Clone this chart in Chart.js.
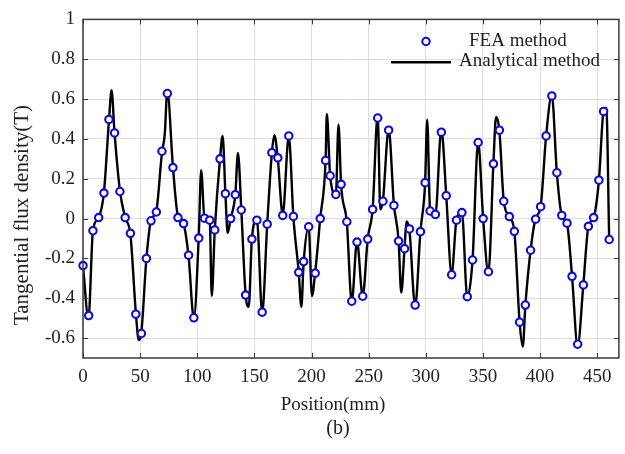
<!DOCTYPE html>
<html><head><meta charset="utf-8">
<script src="https://cdn.jsdelivr.net/npm/chart.js@4"></script>
<style>html,body{margin:0;padding:0;background:#fff;}#wrap{width:625px;height:454px;position:relative}</style>
</head><body><div id="wrap"><canvas id="c" width="625" height="454"></canvas></div>
<script>
// FEA method samples: position (mm) and tangential flux density (T)
const feaX = [0, 5.0, 8.7, 13.7, 18.3, 22.7, 27.6, 32.3, 36.9, 41.5,
  46.2, 51.1, 55.5, 59.5, 64.2, 69.1, 73.8, 78.7, 83.1, 88.0,
  92.4, 97.0, 101.3, 106.3, 110.9, 115.3, 119.9, 124.6, 129.2, 133.3,
  138.5, 142.3, 147.8, 152.2, 156.8, 161.2, 165.3, 170.5, 174.8, 180.1,
  184.1, 188.8, 193.1, 197.5, 203.2, 207.6, 212.3, 216.3, 221.3, 225.9,
  230.9, 235.2, 239.8, 244.8, 249.2, 253.5, 257.9, 262.5, 267.5, 272.1,
  276.2, 281.4, 285.7, 290.7, 295.3, 299.4, 303.8, 308.4, 313.6, 317.9,
  322.6, 326.9, 331.6, 336.3, 340.9, 345.8, 350.2, 354.8, 359.2, 364.4,
  368.2, 373.1, 377.5, 382.1, 387.1, 391.7, 396.1, 400.5, 405.3, 410.3,
  414.7, 419.0, 423.6, 428.0, 432.9, 437.9, 442.3, 446.9, 451.5, 455.6,
  460.5];
const feaY = [-0.236, -0.487, -0.061, 0.005, 0.128, 0.498, 0.43, 0.136, 0.005, -0.074,
  -0.48, -0.577, -0.2, -0.011, 0.033, 0.338, 0.628, 0.256, 0.005, -0.025,
  -0.184, -0.498, -0.098, 0.002, -0.008, -0.057, 0.3, 0.125, 0, 0.12,
  0.043, -0.384, -0.103, -0.008, -0.47, -0.028, 0.331, 0.305, 0.016, 0.415,
  0.011, -0.27, -0.216, -0.041, -0.274, 0, 0.292, 0.215, 0.121, 0.172,
  -0.016, -0.415, -0.118, -0.39, -0.103, 0.046, 0.505, 0.087, 0.444, 0.066,
  -0.113, -0.151, -0.052, -0.434, -0.066, 0.18, 0.038, 0.021, 0.434, 0.115,
  -0.282, -0.008, 0.03, -0.392, -0.208, 0.382, 0, -0.267, 0.275, 0.444,
  0.087, 0.01, -0.064, -0.52, -0.434, -0.159, -0.003, 0.06, 0.415, 0.616,
  0.23, 0.016, -0.023, -0.29, -0.631, -0.333, -0.039, 0.005, 0.193, 0.538,
  -0.105];

// Analytical method curve: position (mm) and tangential flux density (T)
const anaX = [0, 4.8, 8.7, 13.7, 18.3, 22.7, 25.0, 27.6, 32.3, 36.9, 41.5, 46.2, 48.8, 51.1, 55.5,
  59.5, 64.2, 69.1, 71.5, 73.8, 78.7, 83.1, 88.0, 92.4, 97.0, 101.3, 103.4, 106.3, 110.9, 112.7,
  115.3, 119.9, 122.2, 124.6, 126.6, 129.2, 133.3, 135.6, 138.5, 142.3, 145.1, 147.8, 152.2, 156.8,
  161.2, 165.3, 167.5, 170.5, 174.8, 180.1, 184.1, 188.8, 191.1, 193.1, 197.5, 200.4, 203.2, 207.6,
  212.3, 213.4, 216.3, 221.3, 223.6, 225.9, 230.9, 235.2, 239.8, 244.8, 249.2, 253.5, 257.9, 260.2,
  262.5, 267.5, 272.1, 276.2, 278.5, 281.4, 283.1, 285.7, 290.7, 295.3, 299.4, 301.2, 303.8, 308.4,
  313.6, 317.9, 322.6, 326.9, 331.6, 336.3, 340.9, 345.8, 350.2, 354.8, 359.2, 361.5, 364.4, 368.2,
  373.1, 377.5, 382.1, 384.9, 387.1, 391.7, 396.1, 400.5, 405.3, 410.3, 414.7, 419.0, 423.6, 428.0,
  432.9, 437.9, 442.3, 446.9, 451.5, 455.6, 458.0, 460.5];
const anaY = [-0.24, -0.5, -0.06, 0.005, 0.13, 0.49, 0.644, 0.43, 0.14, 0.005, -0.08, -0.47, -0.61, -0.57, -0.2,
  -0.01, 0.04, 0.33, 0.42, 0.64, 0.26, 0.01, -0.03, -0.19, -0.5, -0.09, 0.243, 0.005, -0.01, -0.389,
  -0.06, 0.3, 0.415, 0.13, -0.072, 0, 0.12, 0.33, 0.05, -0.38, -0.443, -0.1, -0.005, -0.475,
  -0.03, 0.33, 0.418, 0.3, 0.02, 0.415, 0.01, -0.27, -0.443, -0.22, -0.04, -0.389, -0.27, 0,
  0.29, 0.525, 0.215, 0.12, 0.472, 0.17, -0.02, -0.42, -0.115, -0.39, -0.1, 0.05, 0.52, 0.046,
  0.09, 0.45, 0.07, -0.11, -0.372, -0.15, -0.015, -0.06, -0.44, -0.066, 0.18, 0.497, 0.04, 0.02,
  0.45, 0.115, -0.28, -0.005, 0.03, -0.395, -0.21, 0.385, 0, -0.27, 0.28, 0.51, 0.44, 0.09,
  0.01, -0.065, -0.52, -0.643, -0.44, -0.16, 0, 0.06, 0.415, 0.62, 0.23, 0.016, -0.025, -0.29,
  -0.64, -0.33, -0.04, 0.005, 0.19, 0.54, 0.555, -0.105];

const seriesNames = ['FEA method', 'Analytical method'];
const xTitle = 'Position(mm)';
const yTitle = 'Tangential flux density(T)';
const caption = '(b)';

const FONT = '"Liberation Serif", "Times New Roman", serif';
const TXT = '#1e1e1e';
const BLUE = 'rgb(10,10,225)';

const decor = {
  id: 'decor',
  afterDatasetsDraw(chart) {
    const {ctx, chartArea: a, scales: {x, y}} = chart;
    ctx.save();
    ctx.strokeStyle = '#3a3a3a';
    ctx.lineWidth = 1;
    const L = 5;
    const seg = (x1, y1, x2, y2) => { ctx.beginPath(); ctx.moveTo(x1, y1); ctx.lineTo(x2, y2); ctx.stroke(); };
    x.ticks.forEach(t => { const p = Math.round(x.getPixelForValue(t.value)) + 0.5; seg(p, a.bottom, p, a.bottom - L); seg(p, a.top, p, a.top + L); });
    y.ticks.forEach(t => { const p = Math.round(y.getPixelForValue(t.value)) + 0.5; seg(a.left, p, a.left + L, p); seg(a.right, p, a.right - L, p); });
    ctx.lineWidth = 1.5;
    ctx.strokeRect(a.left, a.top, a.right - a.left, a.bottom - a.top);
    ctx.restore();
  },
  afterDraw(chart) {
    const {ctx} = chart;
    const ds = chart.data.datasets;
    ctx.save();
    // legend
    ctx.font = '19px ' + FONT;
    ctx.textBaseline = 'middle';
    ctx.textAlign = 'left';
    ctx.beginPath();
    ctx.arc(426, 41.5, ds[0].pointRadius, 0, Math.PI * 2);
    ctx.fillStyle = '#fff'; ctx.fill();
    ctx.lineWidth = ds[0].pointBorderWidth; ctx.strokeStyle = ds[0].pointBorderColor; ctx.stroke();
    ctx.fillStyle = TXT;
    ctx.fillText(ds[0].label, 469, 41);
    ctx.beginPath(); ctx.moveTo(391, 62.3); ctx.lineTo(451, 62.3);
    ctx.lineWidth = ds[1].borderWidth; ctx.strokeStyle = ds[1].borderColor; ctx.stroke();
    ctx.fillText(ds[1].label, 459, 61);
    // axis titles and caption
    ctx.textAlign = 'center';
    ctx.fillText(xTitle, 333, 405);
    ctx.font = '20px ' + FONT;
    ctx.fillText(caption, 338, 429);
    ctx.font = '21px ' + FONT;
    ctx.translate(22, 215);
    ctx.rotate(-Math.PI / 2);
    ctx.fillText(yTitle, 0, 0);
    ctx.restore();
  }
};

new Chart(document.getElementById('c'), {
  type: 'scatter',
  data: {
    datasets: [
      {
        label: seriesNames[0],
        data: feaX.map((v, i) => ({x: v, y: feaY[i]})),
        showLine: false,
        pointStyle: 'circle',
        pointRadius: 3.7,
        pointBorderWidth: 2.1,
        pointBorderColor: BLUE,
        pointBackgroundColor: '#ffffff',
        clip: false
      },
      {
        label: seriesNames[1],
        data: anaX.map((v, i) => ({x: v, y: anaY[i]})),
        showLine: true,
        borderColor: '#000000',
        borderWidth: 2.4,
        pointRadius: 0,
        cubicInterpolationMode: 'monotone',
        fill: false
      }
    ]
  },
  options: {
    responsive: false,
    animation: false,
    devicePixelRatio: 1,
    layout: {padding: {left: 0, top: 13, right: 4, bottom: 0}},
    plugins: {legend: {display: false}, tooltip: {enabled: false}, title: {display: false}},
    scales: {
      x: {
        type: 'linear', min: 0, max: 469,
        border: {display: false},
        grid: {color: '#dedede', lineWidth: 1, drawTicks: false},
        ticks: {stepSize: 50, includeBounds: false, autoSkip: false, maxRotation: 0, padding: 8,
          color: TXT, font: {family: FONT, size: 19}},
        afterFit: s => { s.height = 96; }
      },
      y: {
        type: 'linear', min: -0.7, max: 1,
        border: {display: false},
        grid: {color: '#dedede', lineWidth: 1, drawTicks: false},
        ticks: {stepSize: 0.2, includeBounds: false, padding: 8, color: TXT,
          font: {family: FONT, size: 19},
          callback: v => String(Number(Number(v).toFixed(1)))},
        afterFit: s => { s.width = 83; }
      }
    }
  },
  plugins: [decor]
});
</script>
</body></html>
